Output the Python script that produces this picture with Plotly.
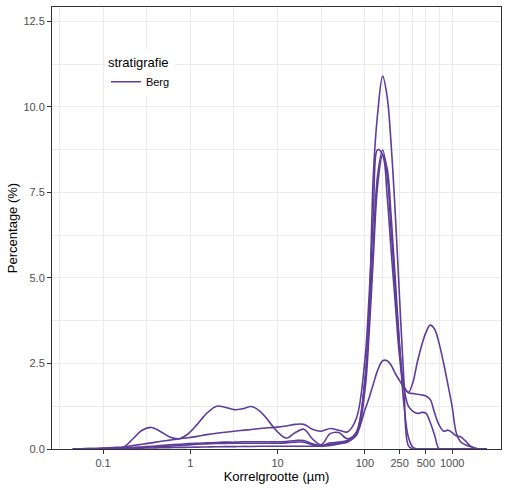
import numpy as np
import plotly.graph_objects as go

# Korrelgrootte klassen (µm)
korrelgrootte = [0.045, 0.055, 0.07, 0.1, 0.13, 0.17, 0.22, 0.28, 0.36, 0.45,
                 0.58, 0.75, 0.95, 1.2, 1.55, 2.0, 2.5, 3.2, 4.0, 5.0,
                 6.3, 8.0, 10, 12.5, 16, 20, 25, 31.5, 40, 50,
                 63, 80, 100, 112, 125, 140, 160, 180, 200, 224,
                 250, 280, 315, 355, 400, 450, 500, 560, 630, 710,
                 800, 900, 1000, 1120, 1250, 1400, 1600, 1800, 2000, 2240, 2500]

# Percentage per klasse, een lijst per monster (stratigrafie = Berg)
monster_1 = [0, 0.005, 0.01, 0.02, 0.03, 0.05, 0.3, 0.55, 0.63, 0.52,
             0.35, 0.3, 0.45, 0.72, 1.05, 1.25, 1.22, 1.15, 1.18, 1.24,
             1.1, 0.8, 0.5, 0.32, 0.48, 0.58, 0.3, 0.12, 0.45, 0.48,
             0.3, 0.45, 1.14, 1.5, 1.9, 2.3, 2.58, 2.58, 2.45, 2.2,
             2.0, 1.8, 1.65, 1.95, 2.55, 3.05, 3.4, 3.62, 3.5, 3.08,
             2.5, 1.85, 1.24, 0.45, 0.21, 0.13, 0.07, 0.03, 0, 0, 0]
monster_2 = [0, 0.005, 0.01, 0.02, 0.04, 0.06, 0.1, 0.14, 0.18, 0.22,
             0.26, 0.3, 0.33, 0.37, 0.42, 0.46, 0.49, 0.52, 0.55, 0.57,
             0.6, 0.62, 0.64, 0.67, 0.72, 0.72, 0.58, 0.52, 0.6, 0.55,
             0.5, 0.9, 2.6, 4.5, 6.8, 8.75, 8.6, 7.4, 5.8, 4.2,
             2.7, 1.85, 1.65, 1.62, 1.6, 1.58, 1.55, 1.45, 1.05, 0.7,
             0.52, 0.55, 0.48, 0.38, 0.36, 0.25, 0.1, 0.03, 0, 0, 0]
monster_3 = [0, 0.003, 0.007, 0.012, 0.02, 0.03, 0.04, 0.05, 0.06, 0.07,
             0.08, 0.1, 0.12, 0.14, 0.15, 0.16, 0.165, 0.17, 0.17, 0.17,
             0.17, 0.17, 0.17, 0.18, 0.2, 0.2, 0.12, 0.09, 0.14, 0.16,
             0.2, 0.45, 2.0, 3.8, 6.0, 8.0, 8.74, 8.0, 6.4, 4.6,
             3.0, 1.8, 1.25, 1.1, 1.04, 1.07, 1.05, 0.78, 0.4, 0,
             0, 0, 0, 0, 0, 0, 0, 0, 0, 0, 0]
monster_4 = [0, 0.003, 0.006, 0.01, 0.02, 0.03, 0.045, 0.06, 0.08, 0.1,
             0.12, 0.14, 0.16, 0.17, 0.18, 0.19, 0.2, 0.2, 0.21, 0.21,
             0.21, 0.21, 0.21, 0.22, 0.25, 0.25, 0.15, 0.1, 0.18, 0.2,
             0.25, 0.5, 2.0, 4.0, 8.0, 9.8, 10.9, 10.3, 8.9, 6.8,
             4.4, 2.0, 0.1, 0, 0, 0, 0, 0, 0, 0,
             0, 0, 0, 0, 0, 0, 0, 0, 0, 0, 0]
monster_5 = [0, 0.002, 0.004, 0.006, 0.01, 0.015, 0.02, 0.025, 0.03, 0.035,
             0.04, 0.045, 0.05, 0.055, 0.06, 0.065, 0.07, 0.07, 0.075, 0.075,
             0.08, 0.08, 0.08, 0.08, 0.08, 0.08, 0.08, 0.08, 0.1, 0.15,
             0.22, 0.4, 1.7, 3.4, 5.6, 7.7, 8.6, 8.2, 6.8, 4.9,
             3.0, 1.3, 0.35, 0.05, 0, 0, 0, 0, 0, 0,
             0, 0, 0, 0, 0, 0, 0, 0, 0, 0, 0]

monsters = [monster_1, monster_2, monster_3, monster_4, monster_5]

x_ticks = [0.1, 1, 10, 100, 250, 500, 1000]
x_ticktext = ["0.1", "1", "10", "100", "250", "500", "1000"]
y_ticks = [0, 2.5, 5, 7.5, 10, 12.5]
y_ticktext = ["0.0", "2.5", "5.0", "7.5", "10.0", "12.5"]

kleur = "#5e3c99"

fig = go.Figure()
for i, m in enumerate(monsters):
    fig.add_trace(go.Scatter(
        x=korrelgrootte, y=m, mode="lines",
        line=dict(color=kleur, width=1.6, shape="spline", smoothing=1),
        name="Berg", legendgroup="Berg", showlegend=(i == 0),
    ))

# minor gridlines halverwege (zoals ggplot)
x_minor = [10 ** -1.5, 10 ** -0.5, 10 ** 0.5, 10 ** 1.5,
           float(np.sqrt(100 * 250)), float(np.sqrt(250 * 500)), float(np.sqrt(500 * 1000))]
y_minor = [1.25, 3.75, 6.25, 8.75, 11.25]

fig.update_layout(
    width=507, height=490,
    margin=dict(l=52, r=6, t=7, b=41),
    plot_bgcolor="white", paper_bgcolor="white",
    font=dict(family="Liberation Sans, Arial, sans-serif", color="black"),
    legend=dict(
        title=dict(text="stratigrafie", font=dict(size=13, color="black")),
        font=dict(size=11, color="black"),
        x=0.12, y=0.902, xanchor="left", yanchor="top",
        bgcolor="white", itemwidth=30,
    ),
)
fig.update_xaxes(
    type="log", range=[np.log10(0.026), np.log10(3630)],
    tickmode="array", tickvals=x_ticks, ticktext=x_ticktext,
    tickfont=dict(size=11, color="#4d4d4d"),
    ticks="outside", ticklen=4, tickcolor="#333333",
    showgrid=True, gridcolor="#ebebeb", gridwidth=1,
    minor=dict(tickmode="array", tickvals=x_minor, showgrid=True,
               gridcolor="#ebebeb", gridwidth=0.5, ticks=""),
    showline=True, linecolor="#333333", linewidth=1, mirror=True,
    zeroline=False, automargin=False,
    title=dict(text="Korrelgrootte (µm)", font=dict(size=13), standoff=2),
)
fig.update_yaxes(
    range=[0, 12.92],
    tickmode="array", tickvals=y_ticks, ticktext=y_ticktext,
    tickfont=dict(size=11, color="#4d4d4d"),
    ticks="outside", ticklen=4, tickcolor="#333333",
    showgrid=True, gridcolor="#ebebeb", gridwidth=1,
    minor=dict(tickmode="array", tickvals=y_minor, showgrid=True,
               gridcolor="#ebebeb", gridwidth=0.5, ticks=""),
    showline=True, linecolor="#333333", linewidth=1, mirror=True,
    zeroline=False, automargin=False,
    title=dict(text="Percentage (%)", font=dict(size=13), standoff=2),
)

# body marge weg zodat de figuur op (0,0) begint, geen modebar
fig.write_html("out.html", config={"displayModeBar": False},
               post_script="document.body.style.margin='0';")
